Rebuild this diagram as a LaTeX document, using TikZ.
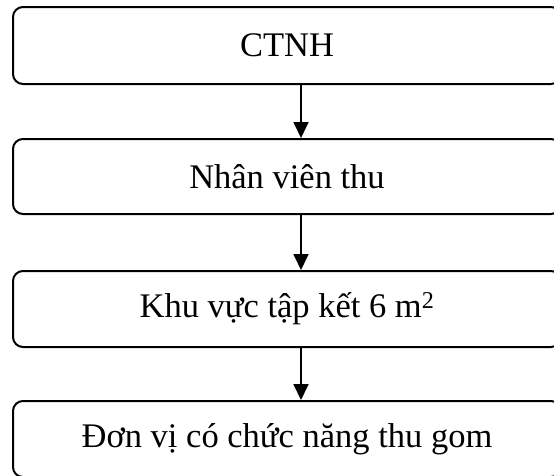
\documentclass[tikz,border=0pt]{standalone}
\usepackage{fontspec}
\setmainfont{Liberation Serif}
\usetikzlibrary{arrows.meta}
\begin{document}
\begin{tikzpicture}[x=1pt,y=-1pt,
  stage/.style={draw, line width=2pt, rounded corners=10pt,
    minimum width=548pt, inner sep=0pt,
    font=\fontsize{34.5}{40}\selectfont},
  flow/.style={line width=1.8pt, -{Triangle[width=15pt,length=16pt]}}]
  \useasboundingbox (0,0) rectangle (554,475);
  % process stages, top to bottom
  \node[stage, minimum height=77pt] (b1) at (287,45.5) {CTNH};
  \node[stage, minimum height=75pt] (b2) at (287,176.5) {Nhân viên thu};
  \node[stage, minimum height=76pt] (b3) at (287,309) {Khu vực tập kết 6 m\textsuperscript{2}};
  \node[stage, minimum height=76pt] (b4) at (287,439) {Đơn vị có chức năng thu gom};
  % arrows run on a common vertical line
  \coordinate (ax) at (301,0);
  \draw[flow] (b1.south -| ax) -- (b2.north -| ax);
  \draw[flow] (b2.south -| ax) -- (b3.north -| ax);
  \draw[flow] (b3.south -| ax) -- (b4.north -| ax);
\end{tikzpicture}
\end{document}
